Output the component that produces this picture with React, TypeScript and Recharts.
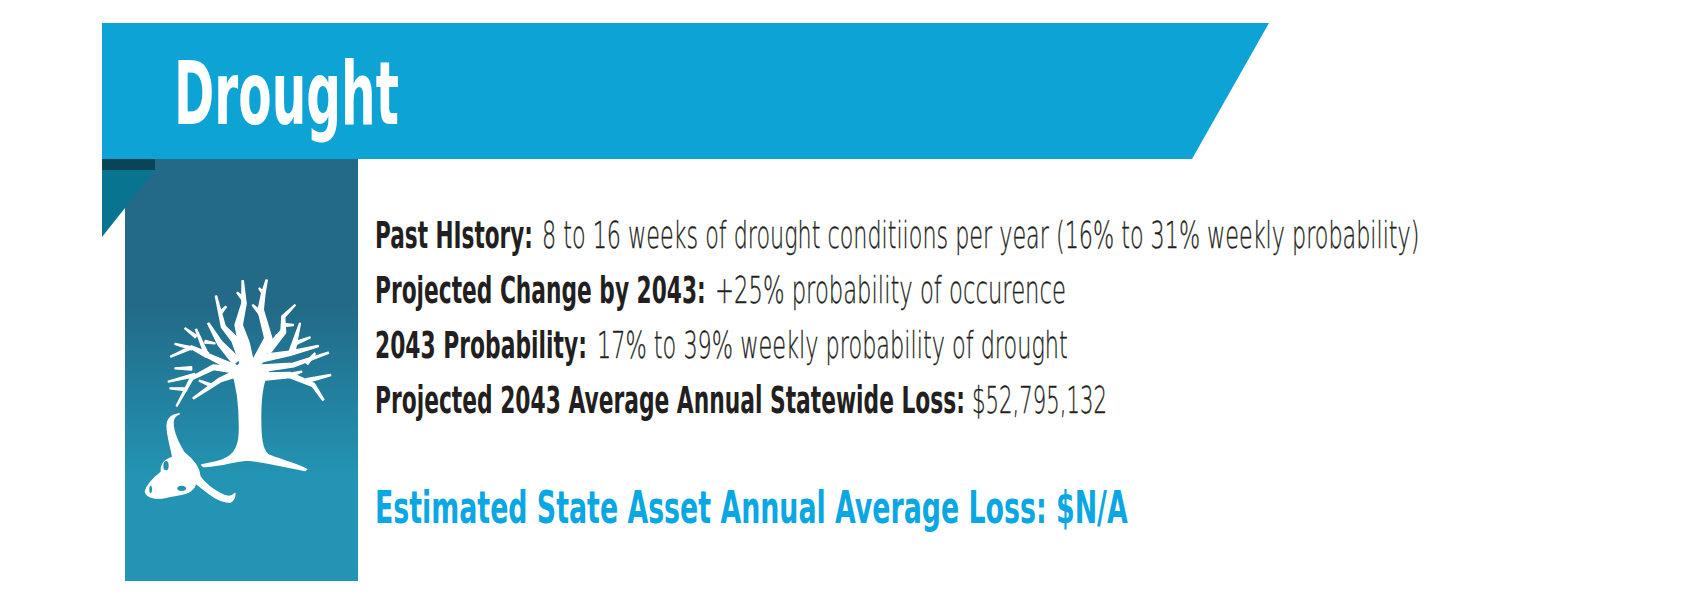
import { Scatter, ScatterChart, XAxis, YAxis } from "recharts";

const title = "Drought";
const rowIndex = [0, 1, 2, 3, 5];
const labels = [
  "Past HIstory:",
  "Projected Change by 2043:",
  "2043 Probability:",
  "Projected 2043 Average Annual Statewide Loss:",
  "Estimated State Asset Annual Average Loss: $N/A",
];
const details = [
  "8 to 16 weeks of drought conditiions per year (16% to 31% weekly probability)",
  "+25% probability of occurence",
  "17% to 39% weekly probability of drought",
  "$52,795,132",
  "",
];

const labelWidths = [158, 331, 212, 590, 753];
const detailStarts = [542, 715, 597, 972, 0];
const detailWidths = [878, 351, 471, 135, 0];

const rows = labels.map((label, i) => ({ x: 375, row: rowIndex[i], label, detail: details[i], i }));

const family = "'DejaVu Sans', sans-serif";
const ink = "#231f20";

// squeeze a text to the width it has in the picture
const ctx = document.createElement("canvas").getContext("2d")!;
const squeeze = (text: string, weight: number, size: number, width: number) => {
  ctx.font = `${weight} ${size}px ${family}`;
  return width / ctx.measureText(text).width;
};

const Fitted = ({ x, y, text, weight, size, width, fill, stroke }: any) => (
  <text
    transform={`translate(${x} ${y}) scale(${squeeze(text, weight, size, width)} 1)`}
    fontFamily={family}
    fontWeight={weight}
    fontSize={size}
    fill={fill}
    stroke={stroke}
    strokeWidth={stroke ? 0.35 : 0}
  >
    {text}
  </text>
);

const RowText = (props: any) => {
  const { cx, cy, payload } = props;
  const last = payload.i === 4;
  return (
    <g>
      <Fitted
        x={cx}
        y={cy}
        text={payload.label}
        weight={700}
        size={last ? 44 : 37}
        width={labelWidths[payload.i]}
        fill={last ? "#0aa7e3" : ink}
      />
      {payload.detail && (
        <Fitted
          x={detailStarts[payload.i]}
          y={cy}
          text={payload.detail}
          weight={200}
          size={37}
          width={detailWidths[payload.i]}
          fill={ink}
          stroke={ink}
        />
      )}
    </g>
  );
};

// tapered branch outline from a centre line
const taper = (pts: number[][], w0: number, w1: number) => {
  const left: string[] = [];
  const right: string[] = [];
  pts.forEach((p, i) => {
    const a = pts[Math.max(i - 1, 0)];
    const b = pts[Math.min(i + 1, pts.length - 1)];
    const dx = b[0] - a[0];
    const dy = b[1] - a[1];
    const len = Math.hypot(dx, dy) || 1;
    const w = (w0 + ((w1 - w0) * i) / (pts.length - 1)) / 2;
    left.push(`${p[0] - (dy / len) * w} ${p[1] + (dx / len) * w}`);
    right.unshift(`${p[0] + (dy / len) * w} ${p[1] - (dx / len) * w}`);
  });
  return `M${left.join("L")}L${right.join("L")}Z`;
};

const branches: [number[][], number, number][] = [
  [[[385, 330], [372, 250], [356, 195], [372, 130], [368, 62]], 40, 4],
  [[[368, 115], [352, 98]], 9, 3],
  [[[412, 305], [445, 235], [422, 150], [430, 100], [440, 60]], 28, 4],
  [[[422, 160], [398, 135]], 12, 3],
  [[[430, 100], [418, 85]], 8, 3],
  [[[375, 310], [345, 240], [310, 200], [288, 108]], 28, 4],
  [[[300, 160], [318, 140]], 9, 3],
  [[[350, 305], [300, 250], [265, 190]], 26, 4],
  [[[345, 325], [260, 285], [228, 208]], 20, 4],
  [[[228, 230], [195, 205]], 9, 3],
  [[[262, 285], [215, 262], [152, 290]], 16, 3],
  [[[215, 265], [165, 252]], 9, 3],
  [[[255, 245], [285, 250]], 8, 3],
  [[[350, 330], [280, 322], [215, 355], [170, 438]], 20, 3],
  [[[215, 325], [165, 325]], 10, 3],
  [[[225, 345], [145, 365]], 10, 3],
  [[[200, 388], [150, 385]], 9, 3],
  [[[350, 340], [300, 360], [220, 415]], 20, 4],
  [[[270, 375], [238, 362]], 8, 3],
  [[[425, 295], [510, 280], [595, 258]], 22, 4],
  [[[515, 280], [540, 190]], 18, 3],
  [[[525, 250], [570, 232]], 10, 3],
  [[[440, 275], [490, 215], [490, 170], [525, 135]], 22, 3],
  [[[490, 195], [520, 195]], 10, 3],
  [[[465, 245], [470, 225]], 8, 3],
  [[[425, 325], [520, 315], [625, 278]], 20, 4],
  [[[560, 310], [585, 280]], 10, 3],
  [[[430, 350], [510, 345], [580, 375], [610, 420]], 22, 5],
  [[[560, 362], [632, 345]], 12, 4],
  [[[520, 342], [545, 335]], 8, 3],
];

const trunk =
  "M335 330C352 380 360 440 358 520C356 570 335 595 290 605L245 615L250 620C310 618 350 600 385 600C430 605 500 620 555 632L560 628C530 610 480 600 445 585C425 570 422 530 422 470C422 420 425 370 445 335L405 300L375 300Z";
const skull =
  "M178 462C150 465 138 480 142 510C146 545 155 570 158 592C135 598 122 612 124 636C100 655 80 675 76 695C80 714 112 718 138 712C165 704 195 706 212 692C225 682 226 672 225 668C260 695 290 725 330 727C342 722 345 710 345 700C335 712 320 712 300 700C280 690 255 670 240 650C238 620 218 598 192 578C172 545 155 510 160 480C163 470 170 465 178 462Z";

export default function App() {
  return (
    <div style={{ position: "absolute", left: 0, top: 0 }}>
      <ScatterChart width={1700} height={605} margin={{ top: 0, right: 0, bottom: 0, left: 0 }}>
        <defs>
          <linearGradient id="column" x1="0" y1="0" x2="0" y2="1">
            <stop offset="0.35" stopColor="#226a88" />
            <stop offset="0.75" stopColor="#2394b3" />
          </linearGradient>
        </defs>
        <XAxis type="number" dataKey="x" domain={[0, 1700]} hide />
        <YAxis type="number" dataKey="row" domain={[-4.509, 6.491]} reversed hide />
        <path d="M125 159H358V581H125Z" fill="url(#column)" />
        <path d="M102 170H155L102 237Z" fill="#08748f" />
        <path d="M102 159H155V170H102Z" fill="#0b4357" />
        <path d="M102 23H1269L1192 159H102Z" fill="#0da3d4" />
        <Fitted x={174} y={124} text={title} weight={700} size={88} width={225} fill="#fff" />
        <g transform="translate(120 260) scale(0.3333)" fill="#fff" stroke="#fff" strokeWidth={4} strokeLinejoin="round">
          <path d={trunk} />
          {branches.map(([pts, w0, w1], i) => (
            <path key={i} d={taper(pts, w0, w1)} />
          ))}
          <path d={skull} />
          <g stroke="none" fill="#2390ae">
            <ellipse cx={138} cy={617} rx={8} ry={14} />
            <ellipse cx={185} cy={685} rx={13} ry={8} />
            <ellipse cx={92} cy={688} rx={4} ry={11} />
          </g>
        </g>
        <Scatter data={rows} shape={RowText} isAnimationActive={false} />
      </ScatterChart>
    </div>
  );
}
